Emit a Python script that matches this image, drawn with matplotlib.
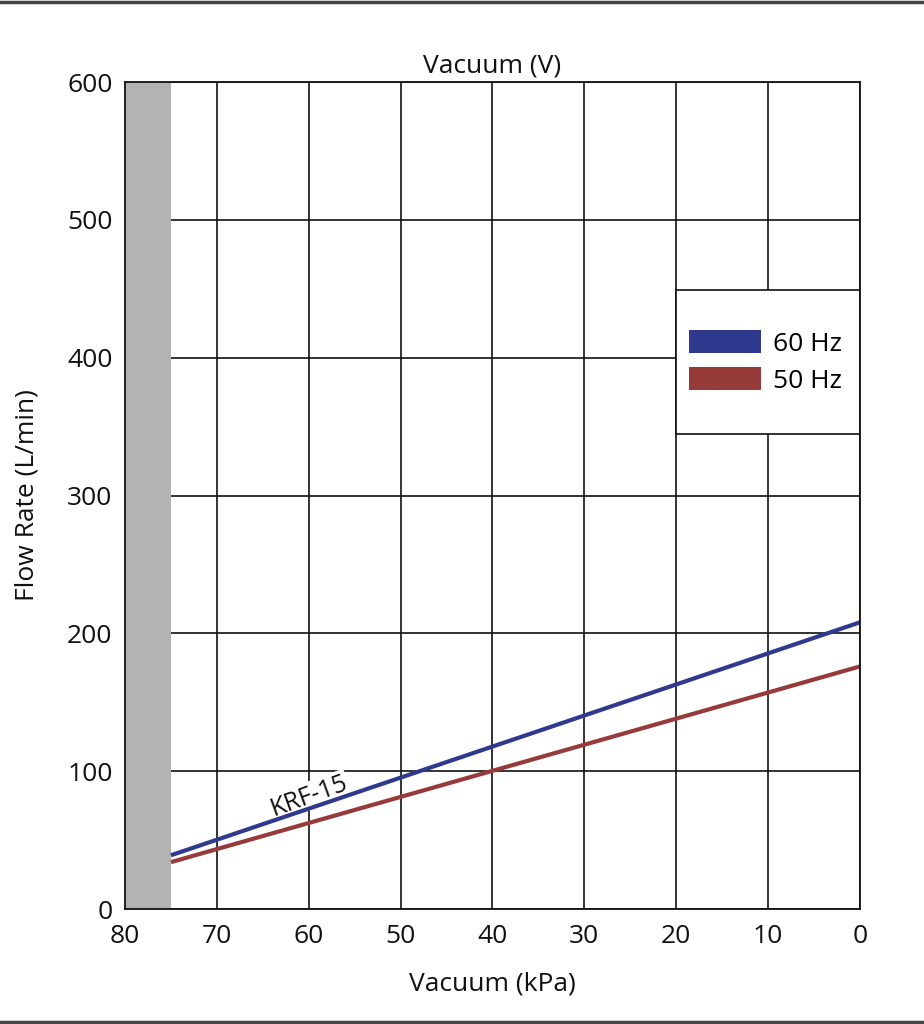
import matplotlib.pyplot as plt
from matplotlib.patches import Patch, Rectangle
from matplotlib.lines import Line2D

plt.rcParams['font.family'] = ['Open Sans', 'DejaVu Sans']

# data
vacuum_kpa = [75, 0]
flow_60hz = [39, 208]
flow_50hz = [34, 176]
series_labels = ['60 Hz', '50 Hz']
x_ticks = [80, 70, 60, 50, 40, 30, 20, 10, 0]
y_ticks = [0, 100, 200, 300, 400, 500, 600]

blue = '#2f3a8f'
red = '#973a3a'
fs = 19

fig = plt.figure(figsize=(9.24, 10.24), dpi=100)
ax = fig.add_axes([0.1353, 0.1123, 0.7954, 0.8076])

# frame lines at top and bottom of the figure
fig.add_artist(Line2D([0, 1], [0.998, 0.998], color='#444444', lw=2.5, transform=fig.transFigure))
fig.add_artist(Line2D([0, 1], [0.0015, 0.0015], color='#444444', lw=2.5, transform=fig.transFigure))

ax.axvspan(80, 75, color='#b3b3b3', lw=0, zorder=1)

ax.plot(vacuum_kpa, flow_60hz, color=blue, lw=3, zorder=4, solid_capstyle='butt')
ax.plot(vacuum_kpa, flow_50hz, color=red, lw=3, zorder=4, solid_capstyle='butt')

ax.set_xlim(80, 0)
ax.set_ylim(0, 600)
ax.set_xticks(x_ticks)
ax.set_yticks(y_ticks)
ax.grid(True, color='#111111', lw=1.2, zorder=2)
ax.set_axisbelow(True)
ax.tick_params(length=0, labelsize=fs, labelcolor='#111111')
ax.tick_params(axis='x', pad=11)
ax.tick_params(axis='y', pad=9)
for s in ax.spines.values():
    s.set_color('#111111')
    s.set_linewidth(1.3)
    s.set_zorder(5)

ax.set_xlabel('Vacuum (kPa)', fontsize=fs, labelpad=16, color='#111111')
ax.set_ylabel('Flow Rate (L/min)', fontsize=fs, labelpad=20, color='#111111')
ax.set_title('Vacuum (V)', fontsize=fs, pad=7, color='#111111')

ax.text(60.0, 82, 'KRF-15', rotation=20, fontsize=18, ha='center', va='center',
        color='#111111', zorder=3,
        bbox=dict(facecolor='white', edgecolor='none', pad=1))

# legend box covering the grid
ax.add_patch(Rectangle((20.05, 344.5), -20.05, 104.5, facecolor='white',
                       edgecolor='#111111', lw=1.2, zorder=3))
handles = [Patch(facecolor=blue, edgecolor='none'), Patch(facecolor=red, edgecolor='none')]
ax.legend(handles, series_labels, loc='center', bbox_to_anchor=(10.3, 397),
          bbox_transform=ax.transData, frameon=False, fontsize=fs,
          handlelength=2.75, handleheight=0.95, handletextpad=0.45, labelspacing=0.4)

fig.savefig('out.png', dpi=100)
